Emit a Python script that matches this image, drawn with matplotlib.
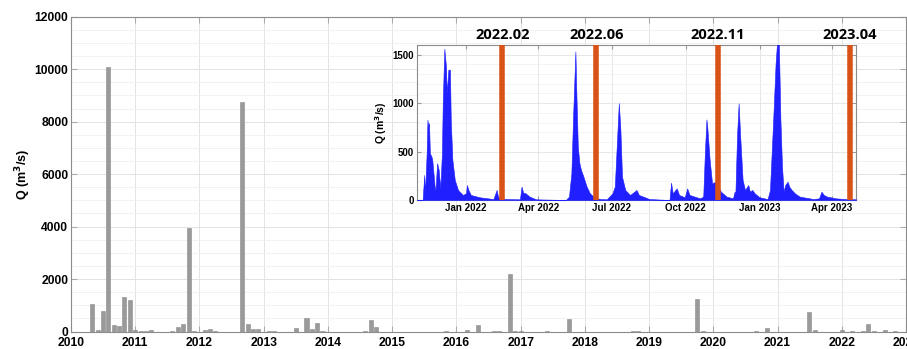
import matplotlib
matplotlib.use('Agg')
import matplotlib.pyplot as plt
import matplotlib.dates as mdates
from matplotlib.ticker import MultipleLocator
import numpy as np
import pandas as pd

# monthly discharge 2010-2022 (bars)
bar_months = ['2010-05', '2010-06', '2010-07', '2010-08', '2010-09', '2010-10', '2010-11', '2010-12',
              '2011-01', '2011-02', '2011-03', '2011-04', '2011-08', '2011-09', '2011-10', '2011-11',
              '2011-12', '2012-02', '2012-03', '2012-04', '2012-09', '2012-10', '2012-11', '2012-12',
              '2013-02', '2013-03', '2013-07', '2013-09', '2013-10', '2013-11', '2013-12', '2014-08',
              '2014-09', '2014-10', '2015-11', '2016-03', '2016-05', '2016-08', '2016-09', '2016-11',
              '2016-12', '2017-01', '2017-06', '2017-10', '2018-10', '2018-11', '2019-10', '2019-11',
              '2020-09', '2020-11', '2021-07', '2021-08', '2022-01', '2022-03', '2022-05', '2022-06',
              '2022-07', '2022-09', '2022-11']
bar_q = [1050, 60, 800, 10100, 240, 200, 1300, 1190,
         50, 20, 10, 50, 20, 160, 280, 3950,
         20, 40, 80, 15, 8750, 270, 80, 100,
         20, 10, 130, 515, 110, 340, 35, 10,
         430, 180, 10, 65, 230, 10, 10, 2180,
         15, 20, 20, 460, 10, 10, 1240, 15,
         10, 140, 760, 40, 40, 20, 10, 280,
         30, 75, 10]

# daily discharge for the inset (read at turning points)
inset_dates = ['2021-11-01', '2021-11-08', '2021-11-10', '2021-11-11', '2021-11-13', '2021-11-14',
               '2021-11-15', '2021-11-16', '2021-11-17', '2021-11-19', '2021-11-20', '2021-11-23',
               '2021-11-24', '2021-11-26', '2021-11-28', '2021-11-30', '2021-12-02', '2021-12-03',
               '2021-12-05', '2021-12-07', '2021-12-08', '2021-12-10', '2021-12-12', '2021-12-13',
               '2021-12-15', '2021-12-18', '2021-12-22', '2021-12-28', '2022-01-01', '2022-01-02',
               '2022-01-04', '2022-01-07', '2022-01-18', '2022-02-04', '2022-02-08', '2022-02-10',
               '2022-02-19', '2022-03-09', '2022-03-11', '2022-03-13', '2022-03-16', '2022-03-21',
               '2022-03-29', '2022-05-05', '2022-05-09', '2022-05-12', '2022-05-14', '2022-05-17',
               '2022-05-18', '2022-05-20', '2022-05-22', '2022-05-24', '2022-05-27', '2022-05-31',
               '2022-06-04', '2022-06-10', '2022-06-17', '2022-06-25', '2022-07-02', '2022-07-05',
               '2022-07-07', '2022-07-10', '2022-07-12', '2022-07-14', '2022-07-18', '2022-07-24',
               '2022-08-01', '2022-08-04', '2022-08-11', '2022-08-17', '2022-09-11', '2022-09-13',
               '2022-09-15', '2022-09-20', '2022-09-23', '2022-09-30', '2022-10-03', '2022-10-06',
               '2022-10-19', '2022-10-23', '2022-10-25', '2022-10-27', '2022-10-28', '2022-10-31',
               '2022-11-03', '2022-11-05', '2022-11-07', '2022-11-10', '2022-11-14', '2022-11-21',
               '2022-11-29', '2022-12-01', '2022-12-02', '2022-12-04', '2022-12-06', '2022-12-08',
               '2022-12-11', '2022-12-14', '2022-12-18', '2022-12-20', '2022-12-23', '2022-12-26',
               '2023-01-01', '2023-01-11', '2023-01-14', '2023-01-18', '2023-01-21', '2023-01-23',
               '2023-01-25', '2023-01-27', '2023-01-29', '2023-01-31', '2023-02-02', '2023-02-05',
               '2023-02-07', '2023-02-10', '2023-02-14', '2023-02-20', '2023-03-09', '2023-03-16',
               '2023-03-19', '2023-03-22', '2023-03-26', '2023-04-06', '2023-04-18', '2023-05-01']
inset_q = [0, 0, 259, 70, 483, 828,
           760, 793, 483, 448, 414, 138,
           100, 380, 310, 120, 483, 1000,
           1562, 1380, 1103, 1345, 1345, 828,
           414, 207, 103, 52, 69, 155,
           103, 52, 28, 10, 103, 28,
           10, 7, 138, 76, 69, 35,
           7, 0, 35, 276, 828, 1534,
           1172, 552, 380, 310, 241, 138,
           69, 24, 10, 7, 69, 138,
           483, 1000, 724, 241, 103, 52,
           103, 52, 30, 10, 0, 179,
           69, 120, 52, 28, 120, 52,
           17, 35, 482, 832, 757, 413,
           172, 179, 189, 150, 86, 35,
           17, 86, 69, 654, 998, 654,
           206, 103, 155, 86, 103, 69,
           28, 10, 103, 826, 1410, 1650,
           1650, 826, 344, 86, 155, 189,
           138, 103, 69, 35, 10, 17,
           86, 52, 35, 17, 10, 7]

# sampling campaigns
event_dates = ['2022-02-15', '2022-06-12', '2022-11-10', '2023-04-23']
event_labels = ['2022.02', '2022.06', '2022.11', '2023.04']

plt.rcParams['font.family'] = ['Liberation Sans', 'DejaVu Sans']
plt.rcParams['font.weight'] = 'bold'

fig = plt.figure(figsize=(9.07, 3.49), dpi=100)

# ---- main axes: monthly bars ----
ax = fig.add_axes([71 / 907, 1 - 331.5 / 349, 835 / 907, 314.8 / 349])
bx = pd.to_datetime(bar_months)
ax.bar(bx, bar_q, width=23, color='#9a9a9a', edgecolor='#8a8a8a', linewidth=0.4, zorder=3)
ax.set_xlim(pd.Timestamp('2010-01-01'), pd.Timestamp('2023-01-01'))
ax.set_ylim(0, 12000)
ax.xaxis.set_major_locator(mdates.YearLocator())
ax.xaxis.set_major_formatter(mdates.DateFormatter('%Y'))
ax.yaxis.set_major_locator(MultipleLocator(2000))
ax.yaxis.set_minor_locator(MultipleLocator(500))
ax.grid(True, which='major', color='#e3e3e3', linewidth=0.7, zorder=0)
ax.grid(True, which='minor', axis='y', color='#f0f0f0', linewidth=0.6, zorder=0)
ax.tick_params(which='both', direction='in', top=True, right=True, color='#aaaaaa',
               labelsize=8.7, pad=2)
ax.tick_params(axis='x', pad=4)
ax.tick_params(which='major', length=4)
ax.tick_params(which='minor', length=0)
for s in ax.spines.values():
    s.set_color('#8c8c8c')
    s.set_linewidth(0.8)
for lab in ax.get_xticklabels() + ax.get_yticklabels():
    lab.set_fontweight('bold')
ax.set_ylabel('Q (m$^\\mathbf{3}$/s)', fontsize=9, fontweight='bold', labelpad=1)

# ---- inset: daily discharge ----
ins = fig.add_axes([417 / 907, 1 - 200 / 349, 439 / 907, 155 / 349])
ix = pd.to_datetime(inset_dates)
ins.fill_between(ix, inset_q, 0, color='#1f1fff', linewidth=0.4, zorder=3)
for d, lab in zip(event_dates, event_labels):
    dt = pd.Timestamp(d)
    ins.axvline(dt, color='#D95319', linewidth=4, zorder=4)
    ins.text(dt, 1.02, lab, transform=ins.get_xaxis_transform(), ha='center', va='bottom',
             fontsize=10.5, fontweight='bold', family=['Open Sans', 'DejaVu Sans'], clip_on=False)
ins.set_xlim(pd.Timestamp('2021-11-01'), pd.Timestamp('2023-05-01'))
ins.set_ylim(0, 1600)
ins.xaxis.set_major_locator(mdates.MonthLocator(bymonth=[1, 4, 7, 10]))
ins.xaxis.set_major_formatter(mdates.DateFormatter('%b %Y'))
ins.yaxis.set_major_locator(MultipleLocator(500))
ins.yaxis.set_minor_locator(MultipleLocator(100))
ins.grid(True, which='major', color='#e3e3e3', linewidth=0.6, zorder=0)
ins.grid(True, which='minor', axis='y', color='#f0f0f0', linewidth=0.5, zorder=0)
ins.tick_params(which='both', direction='in', top=True, right=True, color='#999999',
                labelsize=7, pad=2)
ins.tick_params(which='major', length=3)
ins.tick_params(which='minor', length=0)
for s in ins.spines.values():
    s.set_color('#8c8c8c')
    s.set_linewidth(0.8)
for lab in ins.get_xticklabels() + ins.get_yticklabels():
    lab.set_fontweight('bold')
ins.set_ylabel('Q (m$^\\mathbf{3}$/s)', fontsize=7.5, fontweight='bold', labelpad=3)

fig.savefig('out.png', dpi=100)
